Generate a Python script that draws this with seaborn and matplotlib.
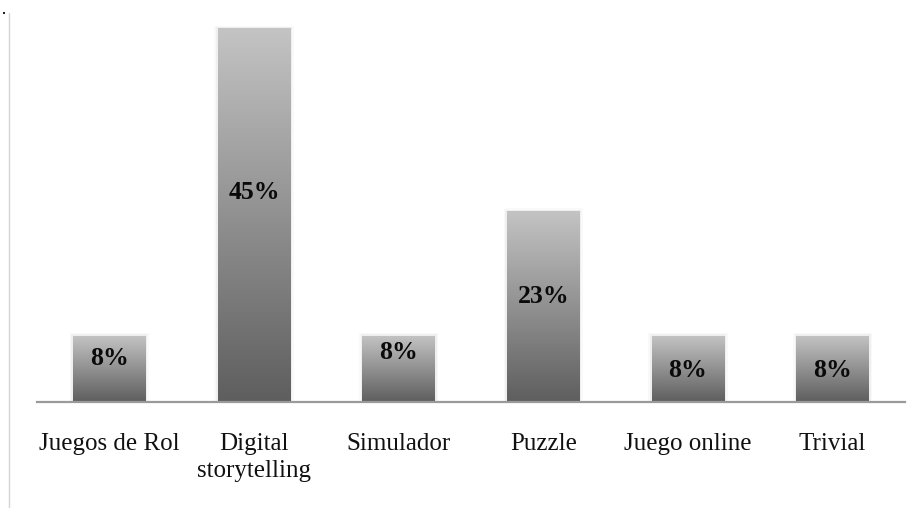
import numpy as np
import pandas as pd
import matplotlib
matplotlib.use("Agg")
import matplotlib.pyplot as plt
from matplotlib.colors import LinearSegmentedColormap
import seaborn as sns

# Chart data
categories = ["Juegos de Rol", "Digital\nstorytelling", "Simulador", "Puzzle", "Juego online", "Trivial"]
percentages = [8, 45, 8, 23, 8, 8]
# Where each value label sits, as a fraction of its bar's height
label_frac = [0.66, 0.56, 0.75, 0.55, 0.48, 0.48]

df = pd.DataFrame({"categoria": categories, "porcentaje": percentages})

sns.set_style("white")
plt.rcParams["font.family"] = ["Liberation Serif", "DejaVu Serif"]

W, H = 920, 508
fig = plt.figure(figsize=(W / 100, H / 100), dpi=100)
ax = fig.add_axes([37 / W, 1 - 402 / H, (905 - 37) / W, (402 - 28) / H])

sns.barplot(data=df, x="categoria", y="porcentaje", ax=ax, width=0.5,
            color="#888888", saturation=1, linewidth=0)

ax.set_xlim(-0.5, len(categories) - 0.5)
ax.set_ylim(0, 45)

# Vertical grey gradient inside every bar: light at the top, dark at the base
grad_cmap = LinearSegmentedColormap.from_list("barra", ["#5e5e5e", "#c4c4c4"])
grad = np.linspace(0, 1, 256).reshape(-1, 1)
for patch, val, frac in zip(ax.patches, percentages, label_frac):
    x0, y0 = patch.get_x(), patch.get_y()
    w, h = patch.get_width(), patch.get_height()
    # faint shadow around the bar
    for k, a in [(0.025, 0.025), (0.012, 0.04)]:
        ax.add_patch(plt.Rectangle((x0 - k, y0), w + 2 * k, h + k * 12,
                                   facecolor="#000000", alpha=a, linewidth=0,
                                   zorder=1.5, clip_on=False))
    patch.set_facecolor("none")
    im = ax.imshow(grad, cmap=grad_cmap, aspect="auto", origin="lower",
                   extent=[x0, x0 + w, y0, y0 + h], zorder=2, vmin=0, vmax=1)
    im.set_clip_path(patch)
    ax.text(x0 + w / 2, val * frac, f"{val}%", ha="center", va="center",
            fontsize=18.5, fontweight="bold", color="#0a0a0a", zorder=3)

# Category axis: grey baseline with tick marks between categories
for side in ["top", "right", "left"]:
    ax.spines[side].set_visible(False)
ax.spines["bottom"].set_color("#9a9a9a")
ax.spines["bottom"].set_linewidth(1.6)
ax.set_yticks([])
ax.set_xticks(np.arange(-0.5, len(categories), 1.0))
ax.set_xticklabels([])
ax.set_xticks(np.arange(len(categories)), minor=True)
ax.set_xticklabels(categories, minor=True, fontsize=18, color="#111111",
                   linespacing=1.3)
ax.tick_params(axis="x", which="major", length=7, width=1.6, color="#9a9a9a",
               direction="out")
ax.tick_params(axis="x", which="minor", length=0, pad=22)
ax.set_xlabel("")
ax.set_ylabel("")
for lbl in ax.get_xticklabels(minor=True):
    lbl.set_verticalalignment("top")

# Thin page rule on the left edge and the small mark above it
fig.add_artist(plt.Line2D([9.5 / W, 9.5 / W], [0, 1 - 13 / H], color="#d4d4d4",
                          linewidth=1.0))
fig.add_artist(plt.Rectangle((3 / W, 1 - 14 / H), 2 / W, 2 / H,
                             color="#222222", linewidth=0))

fig.savefig("out.png", dpi=100)
